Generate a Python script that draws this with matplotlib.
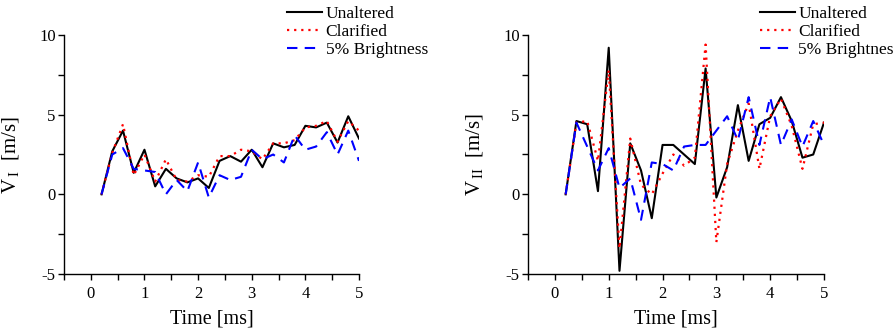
import numpy as np
import matplotlib
matplotlib.use("Agg")
import matplotlib.pyplot as plt
from matplotlib.ticker import MultipleLocator

plt.rcParams['font.family'] = ['Liberation Serif', 'DejaVu Serif']
plt.rcParams['mathtext.fontset'] = 'custom'
plt.rcParams['mathtext.rm'] = 'Liberation Serif'
plt.rcParams['axes.unicode_minus'] = False

# time axis [ms]
time = [0.2, 0.4, 0.6, 0.8, 1.0, 1.2, 1.4, 1.6, 1.8, 2.0, 2.2, 2.4, 2.6,
        2.8, 3.0, 3.2, 3.4, 3.6, 3.8, 4.0, 4.2, 4.4, 4.6, 4.8, 5.0]

# left panel: V_I
v1_unaltered = [0.0, 2.7, 4.0, 1.35, 2.8, 0.5, 1.6, 1.0, 0.75, 1.0, 0.4, 2.1, 2.4,
                2.05, 2.8, 1.7, 3.2, 2.95, 3.1, 4.3, 4.2, 4.5, 3.25, 4.9, 3.5]
v1_clarified = [0.0, 2.6, 4.4, 1.2, 2.5, 0.8, 2.2, 0.9, 0.8, 1.2, 1.1, 2.4, 2.4,
                2.8, 2.7, 2.2, 3.2, 3.2, 3.4, 4.2, 4.3, 4.6, 3.3, 4.6, 4.0]
v1_bright = [0.0, 2.5, 2.9, 1.6, 1.5, 1.4, 0.0, 0.9, 0.2, 2.0, -0.2, 1.2, 0.9,
             1.1, 2.8, 2.2, 2.5, 2.0, 3.7, 2.8, 3.0, 3.9, 2.5, 4.0, 2.1]

# right panel: V_II
v2_unaltered = [0.0, 4.6, 4.4, 0.2, 9.2, -4.8, 3.2, 1.5, -1.5, 3.1, 3.1, 2.5, 1.9,
                7.9, -0.2, 1.7, 5.6, 2.1, 4.4, 4.8, 6.1, 4.6, 2.3, 2.5, 4.5]
v2_clarified = [0.0, 4.5, 4.6, 2.1, 7.8, -3.4, 3.5, 0.6, 0.0, 1.3, 2.5, 1.8, 2.3,
                9.4, -3.0, 1.9, 4.0, 5.7, 1.6, 4.9, 6.0, 4.3, 1.6, 4.4, 4.5]
v2_bright = [0.0, 4.5, 3.0, 1.5, 2.9, 0.4, 1.0, -1.6, 2.0, 1.9, 1.5, 3.0, 3.1,
             3.1, 4.0, 4.9, 3.4, 6.1, 3.1, 6.1, 3.1, 4.7, 3.0, 4.6, 3.1]

labels = ["Unaltered", "Clarified", "5% Brightness"]

fig = plt.figure(figsize=(8.93, 3.29), dpi=100)
ax1 = fig.add_axes([64/893, 1-274/329, 295/893, 239/329])
ax2 = fig.add_axes([528/893, 1-274/329, 296/893, 239/329])


def draw(ax, unalt, clar, bright, ylab, leg_x):
    ax.plot(time, unalt, color='black', lw=1.5, label=labels[0])
    ax.plot(time, clar, color='red', lw=1.6, linestyle=(0, (1, 2.2)), label=labels[1])
    ax.plot(time, bright, color='blue', lw=1.5, linestyle=(0, (5, 3.5)), label=labels[2])

    ax.set_xlim(-0.5, 5)
    ax.set_ylim(-5, 10)
    ax.set_xticks([0, 1, 2, 3, 4, 5])
    ax.xaxis.set_minor_locator(MultipleLocator(0.5))
    ax.yaxis.set_major_locator(MultipleLocator(5))
    ax.yaxis.set_minor_locator(MultipleLocator(2.5))

    for s in ['top', 'right']:
        ax.spines[s].set_visible(False)
    for s in ['left', 'bottom']:
        ax.spines[s].set_linewidth(1.0)

    ax.tick_params(axis='both', which='both', direction='out', length=4, width=1,
                   labelsize=12)
    ax.tick_params(axis='x', pad=5)
    ax.tick_params(axis='y', pad=2)

    ax.set_xlabel("Time [ms]", fontsize=14.5, labelpad=5)
    ax.set_ylabel(ylab, fontsize=15, labelpad=12)

    ax.legend(loc='upper left', bbox_to_anchor=(leg_x, 1.12), frameon=False,
              fontsize=12.5, handlelength=2.0, handletextpad=0.2,
              borderaxespad=0, borderpad=0, labelspacing=0.1)


draw(ax1, v1_unaltered, v1_clarified, v1_bright, r"V$_{\,\mathrm{I}}$  [m/s]", 0.757)
draw(ax2, v2_unaltered, v2_clarified, v2_bright, r"V$_{\,\mathrm{II}}$  [m/s]", 0.784)

fig.savefig("out.png", dpi=100)
